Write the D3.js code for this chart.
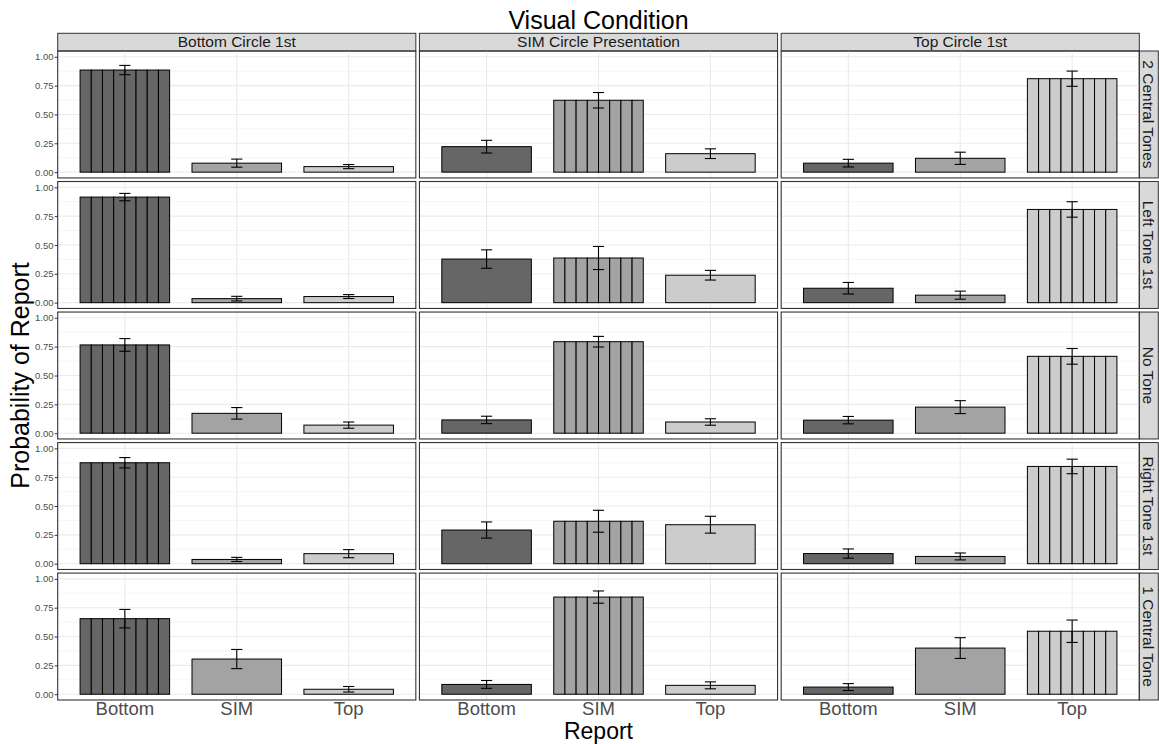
<!DOCTYPE html>
<html>
<head>
<meta charset="utf-8">
<script src="https://cdn.jsdelivr.net/npm/d3@7"></script>
<style>
	body { margin: 0; background: #fff; }
	svg { display: block; font-family: 'Liberation Sans', Arial, Helvetica, sans-serif; }
</style>
</head>
<body>
<div id="chart"></div>
<script>
// facets and categories
const visualConditions = ['Bottom Circle 1st', 'SIM Circle Presentation', 'Top Circle 1st']
const toneConditions = ['2 Central Tones', 'Left Tone 1st', 'No Tone', 'Right Tone 1st', '1 Central Tone']
const reports = ['Bottom', 'SIM', 'Top']
// report that matches each visual condition (drawn as the 8-part bar)
const matchedReport = ['Bottom', 'SIM', 'Top']
const nParts = 8

const yTicks = [0, 0.25, 0.5, 0.75, 1]
const yMinorTicks = [0.125, 0.375, 0.625, 0.875]

// mean probability of report, [visual condition][report]
const meanTwoCentral = [[0.885, 0.078, 0.048], [0.221, 0.623, 0.160], [0.078, 0.120, 0.810]]
const meanLeftFirst = [[0.915, 0.035, 0.053], [0.378, 0.387, 0.238], [0.125, 0.065, 0.808]]
const meanNoTone = [[0.765, 0.172, 0.070], [0.115, 0.793, 0.097], [0.113, 0.226, 0.666]]
const meanRightFirst = [[0.875, 0.037, 0.087], [0.292, 0.368, 0.338], [0.088, 0.063, 0.843]]
const meanOneCentral = [[0.655, 0.305, 0.043], [0.085, 0.842, 0.077], [0.062, 0.400, 0.546]]

// standard errors, same layout
const seTwoCentral = [[0.040, 0.035, 0.018], [0.055, 0.067, 0.042], [0.033, 0.053, 0.066]]
const seLeftFirst = [[0.032, 0.020, 0.017], [0.080, 0.100, 0.042], [0.050, 0.035, 0.067]]
const seNoTone = [[0.055, 0.050, 0.027], [0.032, 0.046, 0.028], [0.032, 0.056, 0.068]]
const seRightFirst = [[0.045, 0.018, 0.035], [0.070, 0.095, 0.073], [0.040, 0.030, 0.063]]
const seOneCentral = [[0.080, 0.083, 0.024], [0.034, 0.053, 0.030], [0.030, 0.090, 0.097]]

const means = [meanTwoCentral, meanLeftFirst, meanNoTone, meanRightFirst, meanOneCentral]
const errors = [seTwoCentral, seLeftFirst, seNoTone, seRightFirst, seOneCentral]

const W = 1159
const H = 744

const svg = d3.select('#chart').append('svg')
	.attr('width', W)
	.attr('height', H)

svg.append('rect').attr('width', W).attr('height', H).attr('fill', '#fff')

const fill = d3.scaleOrdinal().domain(reports).range(['#666666', '#a3a3a3', '#cccccc'])

const colScale = d3.scaleBand()
	.domain(visualConditions)
	.range([57.7, 1139.3])
	.paddingInner(0.00995)

const rowScale = d3.scaleBand()
	.domain(toneConditions)
	.range([51, 700])
	.paddingInner(0.0276)

const pw = colScale.bandwidth()
const ph = rowScale.bandwidth()

const x = d3.scaleBand().domain(reports).range([0, pw]).paddingInner(0.2).paddingOuter(0.2)
const y = d3.scaleLinear().domain([-0.05, 1.05]).range([ph, 0])

// top strips
visualConditions.forEach(vc => {
	const g = svg.append('g').attr('transform', `translate(${colScale(vc)},33.3)`)
	g.append('rect')
		.attr('width', pw).attr('height', 51 - 33.3)
		.attr('fill', '#d9d9d9').attr('stroke', '#333333').attr('stroke-width', 1)
	g.append('text')
		.attr('x', pw / 2).attr('y', 13.8)
		.attr('text-anchor', 'middle')
		.attr('font-size', '15.5px')
		.attr('fill', '#1a1a1a')
		.text(vc)
})

// right strips
toneConditions.forEach(tc => {
	const g = svg.append('g').attr('transform', `translate(1139.3,${rowScale(tc)})`)
	g.append('rect')
		.attr('width', 19).attr('height', ph)
		.attr('fill', '#d9d9d9').attr('stroke', '#333333').attr('stroke-width', 1)
	g.append('text')
		.attr('transform', `translate(9.5,${ph / 2}) rotate(90)`)
		.attr('dy', '0.35em')
		.attr('text-anchor', 'middle')
		.attr('font-size', '15.5px')
		.attr('fill', '#1a1a1a')
		.text(tc)
})

toneConditions.forEach((tc, ri) => {
	visualConditions.forEach((vc, ci) => {
		const panel = svg.append('g')
			.attr('transform', `translate(${colScale(vc)},${rowScale(tc)})`)

		// grid
		panel.append('g').selectAll('line')
			.data(yMinorTicks)
			.enter()
			.append('line')
			.attr('x1', 0).attr('x2', pw)
			.attr('y1', d => y(d)).attr('y2', d => y(d))
			.attr('stroke', '#f0f0f0').attr('stroke-width', 0.7)
		panel.append('g').selectAll('line')
			.data(yTicks)
			.enter()
			.append('line')
			.attr('x1', 0).attr('x2', pw)
			.attr('y1', d => y(d)).attr('y2', d => y(d))
			.attr('stroke', '#ebebeb').attr('stroke-width', 1.1)
		panel.append('g').selectAll('line')
			.data(reports)
			.enter()
			.append('line')
			.attr('x1', d => x(d) + x.bandwidth() / 2).attr('x2', d => x(d) + x.bandwidth() / 2)
			.attr('y1', 0).attr('y2', ph)
			.attr('stroke', '#ebebeb').attr('stroke-width', 1.1)

		const bars = reports.map((r, k) => ({
			report: r,
			mean: means[ri][ci][k],
			se: errors[ri][ci][k]
		}))

		// bars
		bars.forEach(b => {
			if (b.report === matchedReport[ci]) {
				const part = d3.scaleBand().domain(d3.range(nParts)).range([x(b.report), x(b.report) + x.bandwidth()])
				panel.append('g').selectAll('rect')
					.data(d3.range(nParts))
					.enter()
					.append('rect')
					.attr('x', d => part(d))
					.attr('y', y(b.mean))
					.attr('width', part.bandwidth())
					.attr('height', y(0) - y(b.mean))
					.attr('fill', fill(b.report))
					.attr('stroke', '#000').attr('stroke-width', 1)
			} else {
				panel.append('rect')
					.attr('x', x(b.report))
					.attr('y', y(b.mean))
					.attr('width', x.bandwidth())
					.attr('height', y(0) - y(b.mean))
					.attr('fill', fill(b.report))
					.attr('stroke', '#000').attr('stroke-width', 1)
			}
		})

		// error bars
		const capHalf = x.step() * 0.05
		const eb = panel.append('g').attr('stroke', '#000').attr('stroke-width', 1.1)
		bars.forEach(b => {
			const cx = x(b.report) + x.bandwidth() / 2
			eb.append('line').attr('x1', cx).attr('x2', cx).attr('y1', y(b.mean + b.se)).attr('y2', y(b.mean - b.se))
			eb.append('line').attr('x1', cx - capHalf).attr('x2', cx + capHalf).attr('y1', y(b.mean + b.se)).attr('y2', y(b.mean + b.se))
			eb.append('line').attr('x1', cx - capHalf).attr('x2', cx + capHalf).attr('y1', y(b.mean - b.se)).attr('y2', y(b.mean - b.se))
		})

		// border
		panel.append('rect')
			.attr('width', pw).attr('height', ph)
			.attr('fill', 'none').attr('stroke', '#333333').attr('stroke-width', 1.1)

		if (ci === 0) {
			const ax = panel.append('g')
				.call(d3.axisLeft(y).tickValues(yTicks).tickFormat(d3.format('.2f')).tickSize(3).tickPadding(1.2))
			ax.select('.domain').remove()
			ax.selectAll('line').attr('stroke', '#333333')
			ax.selectAll('text').attr('fill', '#4d4d4d').attr('font-size', '9.5px')
				.attr('font-family', "'Liberation Sans', Arial, sans-serif")
		}

		if (ri === toneConditions.length - 1) {
			const ax = panel.append('g')
				.attr('transform', `translate(0,${ph})`)
				.call(d3.axisBottom(x).tickSize(0).tickPadding(1.6))
			ax.select('.domain').remove()
			ax.selectAll('line').remove()
			ax.selectAll('text').attr('fill', '#4d4d4d').attr('font-size', '18.5px')
				.attr('font-family', "'Liberation Sans', Arial, sans-serif")
		}
	})
})

// titles
svg.append('text')
	.attr('x', 598.5).attr('y', 29)
	.attr('text-anchor', 'middle')
	.attr('font-size', '25px')
	.attr('fill', '#000')
	.text('Visual Condition')

svg.append('text')
	.attr('x', 598.5).attr('y', 739)
	.attr('text-anchor', 'middle')
	.attr('font-size', '23px')
	.attr('fill', '#000')
	.text('Report')

svg.append('text')
	.attr('transform', 'translate(29,375.5) rotate(-90)')
	.attr('text-anchor', 'middle')
	.attr('font-size', '25px')
	.attr('fill', '#000')
	.text('Probability of Report')
</script>
</body>
</html>
